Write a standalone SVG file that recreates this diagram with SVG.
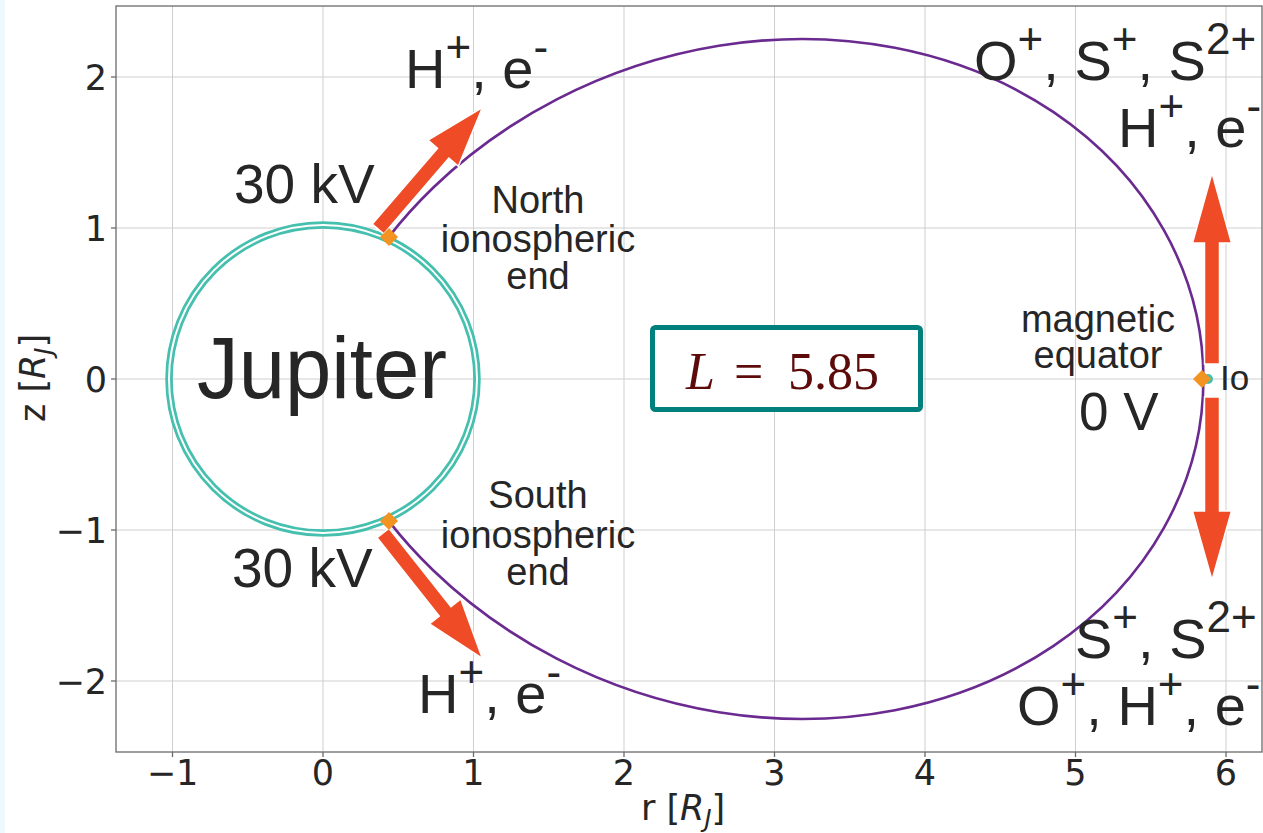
<svg xmlns="http://www.w3.org/2000/svg" width="1263" height="833" viewBox="0 0 1263 833">
<style>
.grid{stroke:#cfcfcf;stroke-width:1;fill:none}
.frame{stroke:#6b6b6b;stroke-width:1.3;fill:none}
.tick{stroke:#6b6b6b;stroke-width:1.3}
.tl{font-family:"DejaVu Sans",sans-serif;font-size:35px;fill:#262626}
.ax{font-family:"DejaVu Sans",sans-serif;font-size:35px;fill:#262626}
.lbl{font-family:"Liberation Sans",Arial,sans-serif;fill:#262626}
.ion{font-size:56px}
.sup{font-size:44px}
.note{font-size:38px}
.arrow{fill:#EE4B26;stroke:#ffffff;stroke-width:1.5;stroke-linejoin:miter}
.dia{fill:#F39322}
.field{fill:none;stroke:#6A2A90;stroke-width:2.6;stroke-linejoin:round;stroke-linecap:round}
</style>
<rect x="0" y="0" width="1263" height="833" fill="#ffffff"/>
<rect x="0" y="0" width="5" height="833" fill="#eef9fd"/>
<g id="axes">
<g class="grid">
<line x1="172.5" y1="6" x2="172.5" y2="752"/>
<line x1="323" y1="6" x2="323" y2="752"/>
<line x1="473.5" y1="6" x2="473.5" y2="752"/>
<line x1="624" y1="6" x2="624" y2="752"/>
<line x1="774.5" y1="6" x2="774.5" y2="752"/>
<line x1="925" y1="6" x2="925" y2="752"/>
<line x1="1075.5" y1="6" x2="1075.5" y2="752"/>
<line x1="1226" y1="6" x2="1226" y2="752"/>
<line x1="116" y1="77" x2="1262" y2="77"/>
<line x1="116" y1="228" x2="1262" y2="228"/>
<line x1="116" y1="379" x2="1262" y2="379"/>
<line x1="116" y1="530" x2="1262" y2="530"/>
<line x1="116" y1="681" x2="1262" y2="681"/>
</g>
<rect class="frame" x="116" y="6" width="1146" height="746"/>
<g class="tick">
<line x1="172.5" y1="752" x2="172.5" y2="757"/>
<line x1="323" y1="752" x2="323" y2="757"/>
<line x1="473.5" y1="752" x2="473.5" y2="757"/>
<line x1="624" y1="752" x2="624" y2="757"/>
<line x1="774.5" y1="752" x2="774.5" y2="757"/>
<line x1="925" y1="752" x2="925" y2="757"/>
<line x1="1075.5" y1="752" x2="1075.5" y2="757"/>
<line x1="1226" y1="752" x2="1226" y2="757"/>
<line x1="111" y1="77" x2="116" y2="77"/>
<line x1="111" y1="228" x2="116" y2="228"/>
<line x1="111" y1="379" x2="116" y2="379"/>
<line x1="111" y1="530" x2="116" y2="530"/>
<line x1="111" y1="681" x2="116" y2="681"/>
</g>
<g class="tl" text-anchor="middle">
<text x="172.5" y="785">−1</text>
<text x="323" y="785">0</text>
<text x="473.5" y="785">1</text>
<text x="624" y="785">2</text>
<text x="774.5" y="785">3</text>
<text x="925" y="785">4</text>
<text x="1075.5" y="785">5</text>
<text x="1226" y="785">6</text>
</g>
<g class="tl" text-anchor="end">
<text x="107" y="90">2</text>
<text x="107" y="241">1</text>
<text x="107" y="392">0</text>
<text x="107" y="543">−1</text>
<text x="107" y="694">−2</text>
</g>
<text class="ax" x="683" y="820" text-anchor="middle">r [<tspan font-style="italic">R</tspan><tspan font-style="italic" font-size="24px" dy="7">J</tspan><tspan dy="-7">]</tspan></text>
<text class="ax" transform="translate(45,378) rotate(-90)" text-anchor="middle">z [<tspan font-style="italic">R</tspan><tspan font-style="italic" font-size="24px" dy="7">J</tspan><tspan dy="-7">]</tspan></text>
</g>
<g id="jupiter">
<circle cx="323" cy="379" r="154" fill="none" stroke="#45BFAE" stroke-width="7.5"/>
<circle cx="323" cy="379" r="154" fill="none" stroke="#ffffff" stroke-width="2"/>
<text class="lbl" x="197" y="398" font-family="'Open Sans',sans-serif" font-size="88" textLength="250" lengthAdjust="spacingAndGlyphs" fill="#262626">Jupiter</text>
</g>
<g id="connectors">
<path class="field" d="M389,236.6 C401.5,220.5 416.3,204.0 433.1,187.7 C466.4,155.6 508.2,124.5 556.8,99.4 C605.4,74.3 660.8,55.2 718.8,45.8 C776.8,36.4 837.3,36.7 894.9,47.8 C952.5,58.9 1007.2,80.9 1053.6,112.2 C1100.0,143.6 1138.0,184.2 1163.9,230.2 C1189.8,276.2 1203.4,327.6 1203.4,379 C1203.4,430.4 1189.8,481.8 1163.9,527.8 C1138.0,573.8 1100.0,614.4 1053.6,645.8 C1007.2,677.1 952.5,699.1 894.9,710.2 C837.3,721.3 776.8,721.6 718.8,712.2 C660.8,702.8 605.4,683.7 556.8,658.6 C508.2,633.5 466.4,602.4 433.1,570.3 C416.3,554.0 401.5,537.5 389.0,521.4"/>
<polygon class="arrow" transform="translate(378,229) rotate(-49.3)" points="0,-7.5 100,-7.5 100,-20 160,0 100,20 100,7.5 0,7.5"/>
<polygon class="arrow" transform="translate(383,533) rotate(51.6)" points="0,-7.5 100,-7.5 100,-20 160,0 100,20 100,7.5 0,7.5"/>
<polygon class="arrow" transform="translate(1212,364) rotate(-90)" points="0,-7.5 121,-7.5 121,-19.5 191,0 121,19.5 121,7.5 0,7.5"/>
<polygon class="arrow" transform="translate(1212,397) rotate(90)" points="0,-7.5 114,-7.5 114,-19.5 183,0 114,19.5 114,7.5 0,7.5"/>
</g>
<g id="north-end">
<polygon class="dia" points="389,228 398,237 389,246 380,237"/>
<text class="lbl note" x="538" y="213" text-anchor="middle">North</text>
<text class="lbl note" x="538" y="252" text-anchor="middle">ionospheric</text>
<text class="lbl note" x="538" y="289" text-anchor="middle">end</text>
<text class="lbl" x="234" y="203" font-size="55">30 kV</text>
<text class="lbl ion" x="405" y="88">H<tspan class="sup" dy="-26">+</tspan><tspan dy="26">, e</tspan><tspan class="sup" dy="-26">-</tspan></text>
</g>
<g id="south-end">
<polygon class="dia" points="389,512 398,521 389,530 380,521"/>
<text class="lbl note" x="538" y="508" text-anchor="middle">South</text>
<text class="lbl note" x="538" y="548" text-anchor="middle">ionospheric</text>
<text class="lbl note" x="538" y="585" text-anchor="middle">end</text>
<text class="lbl" x="232" y="587" font-size="55">30 kV</text>
<text class="lbl ion" x="418" y="713">H<tspan class="sup" dy="-26">+</tspan><tspan dy="26">, e</tspan><tspan class="sup" dy="-26">-</tspan></text>
</g>
<g id="io">
<circle cx="1208" cy="379" r="5" fill="#45BFAE"/>
<polygon class="dia" points="1202,370 1211,379 1202,388 1193,379"/>
<text class="lbl" x="1220" y="390" font-size="35">Io</text>
<text class="lbl note" x="1098" y="332" text-anchor="middle">magnetic</text>
<text class="lbl note" x="1098" y="368" text-anchor="middle">equator</text>
<text class="lbl" x="1079" y="430" font-size="53">0 V</text>
<text class="lbl ion" x="974" y="80">O<tspan class="sup" dy="-26">+</tspan><tspan dy="26">, S</tspan><tspan class="sup" dy="-26">+</tspan><tspan dy="26">, S</tspan><tspan class="sup" dy="-26">2+</tspan></text>
<text class="lbl ion" x="1118" y="147">H<tspan class="sup" dy="-26">+</tspan><tspan dy="26">, e</tspan><tspan class="sup" dy="-26">-</tspan></text>
<text class="lbl ion" x="1075" y="658">S<tspan class="sup" dy="-26">+</tspan><tspan dy="26">, S</tspan><tspan class="sup" dy="-26">2+</tspan></text>
<text class="lbl ion" x="1017" y="725">O<tspan class="sup" dy="-26">+</tspan><tspan dy="26">, H</tspan><tspan class="sup" dy="-26">+</tspan><tspan dy="26">, e</tspan><tspan class="sup" dy="-26">-</tspan></text>
</g>
<g id="lbox">
<rect x="652.5" y="327.5" width="268" height="82" rx="3" fill="#ffffff" stroke="#00807C" stroke-width="5"/>
<text x="686" y="389" font-family="'Liberation Serif','DejaVu Serif',serif" font-size="52" fill="#5C0A0A"><tspan font-style="italic">L</tspan><tspan x="734">=</tspan><tspan x="788">5.85</tspan></text>
</g>
</svg>
